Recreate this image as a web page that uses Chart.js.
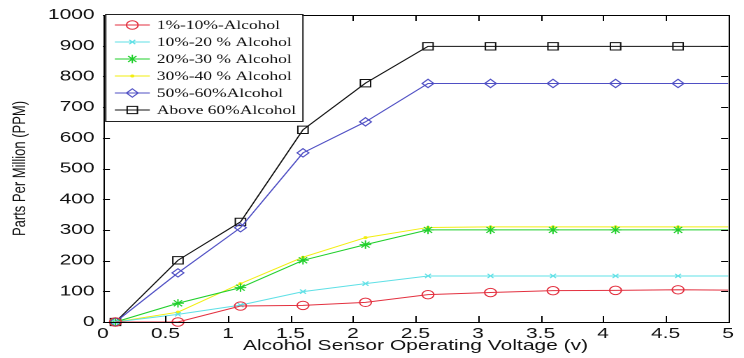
<!DOCTYPE html>
<html><head><meta charset="utf-8">
<script src="https://cdn.jsdelivr.net/npm/chart.js@4.4.1/dist/chart.umd.min.js"></script>
<style>
html,body{margin:0;padding:0;background:#fff;overflow:hidden;width:744px;height:358px;}
#wrap{position:absolute;left:0;top:0;width:532px;height:358px;transform:scaleX(1.398496);transform-origin:0 0;}
</style></head><body>
<div id="wrap"><canvas id="c" width="532" height="358"></canvas></div>
<script>
// ---- data ----
const voltage      = [0.1, 0.6, 1.1, 1.6, 2.1, 2.6, 3.1, 3.6, 4.1, 4.6, 5];
const ppm1to10     = [0, 0, 52, 54, 64, 89, 96, 102, 103, 105, 104];
const ppm10to20    = [0, 25, 55, 99, 125, 150, 150, 150, 150, 150, 150];
const ppm20to30    = [0, 61, 112, 201, 252, 300, 300, 300, 300, 300, 300];
const ppm30to40    = [0, 32, 125, 211, 275, 308, 310, 310, 310, 310, 310];
const ppm50to60    = [0, 160, 307, 551, 652, 777, 777, 777, 777, 777, 777];
const ppmAbove60   = [0, 201, 326, 626, 778, 898, 898, 898, 898, 898, 898];
const seriesLabels = ['1%-10%-Alcohol', '10%-20 % Alcohol', '20%-30 % Alcohol', '30%-40 % Alcohol', '50%-60%Alcohol', 'Above 60%Alcohol'];
const xTickValues = [0, 0.5, 1, 1.5, 2, 2.5, 3, 3.5, 4, 4.5, 5];
const yTickValues = [0, 100, 200, 300, 400, 500, 600, 700, 800, 900, 1000];
const xAxisTitle = 'Alcohol Sensor Operating Voltage (v)';
const yAxisTitle = 'Parts Per Million (PPM)';

const styles = [
  {color:'#e3303f', style:'circle',   r:4.2},
  {color:'#5fe0e6', style:'crossRot', r:3},
  {color:'#1fcf2a', style:'star',     r:4.2},
  {color:'#f2ee10', style:'circle',   r:1},
  {color:'#4f4fc4', style:'rectRot',  r:4.2},
  {color:'#111111', style:'rect',     r:5.2}
];
const seriesValues = [ppm1to10, ppm10to20, ppm20to30, ppm30to40, ppm50to60, ppmAbove60];
const lastIdx = voltage.length - 1;

const datasets = seriesValues.map((vals, i) => ({
  label: seriesLabels[i],
  data: voltage.map((v, k) => ({x: v, y: vals[k]})),
  borderColor: styles[i].color,
  backgroundColor: styles[i].color,
  borderWidth: 1,
  pointStyle: styles[i].style,
  pointRadius: ctx => ctx.dataIndex === lastIdx ? 0 : styles[i].r,
  pointHoverRadius: 0,
  pointBorderColor: styles[i].color,
  pointBackgroundColor: styles[i].style === 'circle' && styles[i].r < 2 ? styles[i].color : 'rgba(0,0,0,0)',
  pointBorderWidth: 1,
  tension: 0,
  clip: false
}));

const framePlugin = {
  id: 'frame',
  afterDatasetsDraw(chart) {
    const {ctx, chartArea: a, scales: {x, y}} = chart;
    ctx.save();
    ctx.strokeStyle = '#000';
    ctx.lineWidth = 1;
    ctx.strokeRect(Math.round(a.left) + 0.5, Math.round(a.top) + 0.5, Math.round(a.right - a.left), Math.round(a.bottom - a.top));
    ctx.beginPath();
    x.ticks.forEach(t => {
      const px = Math.round(x.getPixelForValue(t.value)) + 0.5;
      ctx.moveTo(px, a.bottom); ctx.lineTo(px, a.bottom - 6);
      ctx.moveTo(px, a.top); ctx.lineTo(px, a.top + 6);
    });
    y.ticks.forEach(t => {
      const py = Math.round(y.getPixelForValue(t.value)) + 0.5;
      ctx.moveTo(a.left, py); ctx.lineTo(a.left + 5, py);
      ctx.moveTo(a.right, py); ctx.lineTo(a.right - 5, py);
    });
    ctx.stroke();
    ctx.restore();
  }
};

const boxLegendPlugin = {
  id: 'boxLegend',
  afterDraw(chart) {
    const {ctx, chartArea: a} = chart;
    const bx = a.left + 1.5, by = 14, bw = 141, bh = 107;
    ctx.save();
    ctx.fillStyle = '#fff';
    ctx.fillRect(bx, by, bw, bh);
    ctx.strokeStyle = '#222';
    ctx.lineWidth = 1;
    ctx.strokeRect(bx + 0.5, by + 0.5, bw, bh);
    chart.data.datasets.forEach((ds, i) => {
      const yy = by + 11 + i * 17;
      const x0 = bx + 7, x1 = bx + 32;
      ctx.strokeStyle = ds.borderColor;
      ctx.lineWidth = 1;
      ctx.beginPath(); ctx.moveTo(x0, yy); ctx.lineTo(x1, yy); ctx.stroke();
      const st = styles[i];
      ctx.fillStyle = st.r < 2 ? ds.borderColor : 'rgba(0,0,0,0)';
      if (Chart.helpers && Chart.helpers.drawPoint) {
        Chart.helpers.drawPoint(ctx, {pointStyle: st.style, rotation: 0, radius: st.r, borderWidth: 1}, (x0 + x1) / 2, yy);
      }
      ctx.fillStyle = '#111';
      ctx.font = '12.5px "Liberation Serif", "Times New Roman", serif';
      ctx.textAlign = 'left';
      ctx.textBaseline = 'middle';
      ctx.fillText(ds.label, bx + 37, yy + 0.5);
    });
    ctx.restore();
  }
};

new Chart(document.getElementById('c'), {
  type: 'line',
  data: {datasets},
  plugins: [framePlugin, boxLegendPlugin],
  options: {
    responsive: false,
    animation: false,
    devicePixelRatio: 2,
    layout: {padding: {left: 0, right: 11.4, top: 9, bottom: 0}},
    plugins: {legend: {display: false}, tooltip: {enabled: false}},
    scales: {
      x: {
        type: 'linear', min: 0, max: 5,
        afterBuildTicks(s) { s.ticks = xTickValues.map(v => ({value: v})); },
        ticks: {color: '#111', padding: 3, maxRotation: 0, autoSkip: false,
          callback: v => String(v),
          font: {family: '"Liberation Sans", Arial, sans-serif', size: 15}},
        grid: {display: false, drawTicks: false},
        border: {display: false},
        title: {display: true, text: xAxisTitle, color: '#111', padding: {top: 0, bottom: 3},
          font: {family: '"Liberation Sans", Arial, sans-serif', size: 15}},
        afterFit(s) { s.height = 36; }
      },
      y: {
        min: 0, max: 1000,
        afterBuildTicks(s) { s.ticks = yTickValues.map(v => ({value: v})); },
        ticks: {color: '#111', padding: 6,
          callback: v => String(v),
          font: {family: '"Liberation Sans", Arial, sans-serif', size: 15}},
        grid: {display: false, drawTicks: false},
        border: {display: false},
        title: {display: true, text: yAxisTitle, color: '#111', padding: {top: 6.5, bottom: 0},
          font: {family: '"Liberation Sans", Arial, sans-serif', size: 13}},
        afterFit(s) { s.width = 73.6; }
      }
    }
  }
});
</script>
</body></html>
